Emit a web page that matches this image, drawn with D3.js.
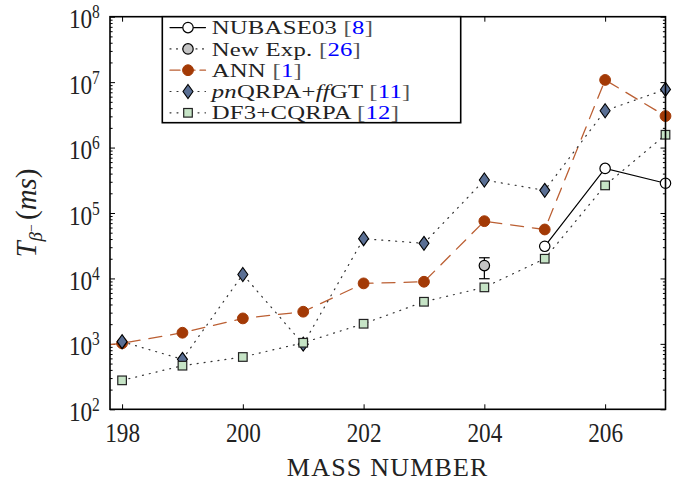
<!DOCTYPE html>
<html><head><meta charset="utf-8">
<script src="https://cdn.jsdelivr.net/npm/d3@7"></script>
<style>body{margin:0;background:#fff}svg{display:block}</style>
</head><body>
<svg id="c" width="677" height="483"></svg>
<script>
// ---- data ----
const massNumbers = [198,199,200,201,202,203,204,205,206,207];
const xTickValues = [198,200,202,204,206];
const yTickValues = [1e2,1e3,1e4,1e5,1e6,1e7,1e8];

const nubaseMass = [205,206,207];
const nubaseVals = [3.1e4, 4.8e5, 2.85e5];

const newExpMass = [204];
const newExpVals = [1.57e4];
const newExpLow  = [9.9e3];
const newExpHigh = [2.07e4];

const annMass = [197,198,199,200,201,202,203,204,205,206,207];
const annVals = [800,1020,1480,2450,3100,8400,8900,7.5e4,5.6e4,1.08e7,3.03e6];

const pnqrpaVals = [1080,580,1.15e4,990,4.05e4,3.44e4,3.19e5,2.22e5,3.66e6,7.75e6];
const df3Vals    = [277,464,630,1040,2030,4400,7300,2.0e4,2.64e5,1.57e6];

const legendLabels = [
  [{t:"NUBASE03 "},{t:"[",c:"#555"},{t:"8",c:"#0000ff"},{t:"]",c:"#555"}],
  [{t:"New Exp. "},{t:"[",c:"#555"},{t:"26",c:"#0000ff"},{t:"]",c:"#555"}],
  [{t:"ANN "},{t:"[",c:"#555"},{t:"1",c:"#0000ff"},{t:"]",c:"#555"}],
  [{t:"pn",i:true},{t:"QRPA+"},{t:"ff",i:true},{t:"GT "},{t:"[",c:"#555"},{t:"11",c:"#0000ff"},{t:"]",c:"#555"}],
  [{t:"DF3+CQRPA "},{t:"[",c:"#555"},{t:"12",c:"#0000ff"},{t:"]",c:"#555"}]
];

// ---- layout ----
const L = 110, R = 665.5, T = 16.7, B = 409.3;
const FONT = "Liberation Serif, serif";
const svg = d3.select("#c");
const x = d3.scaleLinear().domain([197.8, 207]).range([L, R]);
const y = d3.scaleLog().domain([1e2, 1e8]).range([B, T]);

svg.append("defs").append("clipPath").attr("id","clip")
  .append("rect").attr("x",L).attr("y",T).attr("width",R-L).attr("height",B-T);

// ---- axes ----
const minorY = y.ticks().filter(v => !yTickValues.some(m => Math.abs(m - v) / m < 1e-9));
function styleAxis(g){ g.select(".domain").remove(); g.selectAll(".tick line").attr("stroke","#000").attr("stroke-width",1); }

svg.append("g").attr("transform",`translate(${L},0)`)
  .call(d3.axisLeft(y).tickValues(minorY).tickSizeInner(-2.6).tickSizeOuter(0).tickFormat(""))
  .call(styleAxis);
svg.append("g").attr("transform",`translate(${R},0)`)
  .call(d3.axisRight(y).tickValues(minorY).tickSizeInner(-2.6).tickSizeOuter(0).tickFormat(""))
  .call(styleAxis);

const gyl = svg.append("g").attr("transform",`translate(${L},0)`)
  .call(d3.axisLeft(y).tickValues(yTickValues).tickSizeInner(-5).tickSizeOuter(0).tickPadding(11.8))
  .call(styleAxis);
gyl.selectAll(".tick text").each(function(d){
  const t = d3.select(this);
  t.text(null).attr("dy",null).attr("y",11).attr("transform","scale(0.86,1)")
   .attr("font-family",FONT).attr("font-size",27).attr("fill","#222").attr("text-anchor","end");
  t.append("tspan").text("10");
  t.append("tspan").attr("dy",-10).attr("font-size",18).text(Math.round(Math.log10(d)));
});
svg.append("g").attr("transform",`translate(${R},0)`)
  .call(d3.axisRight(y).tickValues(yTickValues).tickSizeInner(-5).tickSizeOuter(0).tickFormat(""))
  .call(styleAxis);

const gxb = svg.append("g").attr("transform",`translate(0,${B})`)
  .call(d3.axisBottom(x).tickValues(xTickValues).tickSizeInner(-5).tickSizeOuter(0).tickFormat(d3.format("d")))
  .call(styleAxis);
gxb.selectAll(".tick text").attr("y",32.4).attr("dy",null).attr("transform","scale(0.86,1)")
  .attr("font-family",FONT).attr("font-size",27).attr("fill","#222");
svg.append("g").attr("transform",`translate(0,${T})`)
  .call(d3.axisTop(x).tickValues(xTickValues).tickSizeInner(-5).tickSizeOuter(0).tickFormat(""))
  .call(styleAxis);

// axis titles
svg.append("text").attr("x",(L+R)/2).attr("y",476).attr("text-anchor","middle")
  .attr("font-family",FONT).attr("font-size",26).attr("letter-spacing",1.2).attr("fill","#222")
  .text("MASS NUMBER");
const yl = svg.append("text").attr("transform",`translate(36,${(T+B)/2}) rotate(-90)`)
  .attr("text-anchor","middle").attr("font-family",FONT).attr("font-size",29).attr("fill","#222");
yl.append("tspan").attr("font-style","italic").text("T");
yl.append("tspan").attr("font-style","italic").attr("font-size",19).attr("dy",6).text("β");
yl.append("tspan").attr("font-size",14).attr("dy",-6).text("−");
yl.append("tspan").attr("dx",4).text("(");
yl.append("tspan").attr("font-style","italic").text("ms");
yl.append("tspan").text(")");

// ---- series ----
const plot = svg.append("g");
const inDomain = m => m >= x.domain()[0] && m <= x.domain()[1];
const lineGen = d3.line().x(d => x(d[0])).y(d => y(d[1]));

const symbols = {
  circle: (g, cx, cy, s) => g.append("circle").attr("cx",cx).attr("cy",cy).attr("r",s.r),
  diamond: (g, cx, cy, s) => g.append("path")
    .attr("d",`M${cx},${cy-7}L${cx+5},${cy}L${cx},${cy+7}L${cx-5},${cy}Z`),
  square: (g, cx, cy, s) => g.append("rect").attr("x",cx-4.3).attr("y",cy-4.3).attr("width",8.6).attr("height",8.6)
};

function drawSeries(mass, vals, st){
  const pts = mass.map((m,i)=>[m, vals[i]]);
  if (st.dash !== null) {
    plot.append("path").datum(pts).attr("d",lineGen).attr("clip-path","url(#clip)")
      .attr("fill","none").attr("stroke",st.lc).attr("stroke-width",st.lw)
      .attr("stroke-dasharray",st.dash).attr("stroke-linecap","round");
  }
  pts.filter(p => inDomain(p[0])).forEach(p => {
    symbols[st.sym](plot, x(p[0]), y(p[1]), st)
      .attr("fill",st.fill).attr("stroke",st.mec).attr("stroke-width",st.mew);
  });
}

const styles = [
  {sym:"circle", r:5.2, fill:"#ffffff", mec:"#000", mew:1.2, lc:"#000", lw:1.2, dash:"none"},
  {sym:"circle", r:5.2, fill:"#c4c4c4", mec:"#000", mew:1.2, lc:"#333", lw:1.2, dash:"1,5.5"},
  {sym:"circle", r:5.4, fill:"#a33a06", mec:"#a33a06", mew:1, lc:"#bb5f33", lw:1.3, dash:"13,9"},
  {sym:"diamond", fill:"#5a6f94", mec:"#000", mew:1.1, lc:"#333", lw:1.2, dash:"1,6"},
  {sym:"square", fill:"#c6e4c6", mec:"#222", mew:1.2, lc:"#333", lw:1.2, dash:"1,6"}
];

drawSeries(nubaseMass, nubaseVals, styles[0]);
newExpMass.forEach((m,i)=>{
  const cx = x(m);
  plot.append("line").attr("x1",cx).attr("x2",cx).attr("y1",y(newExpLow[i])).attr("y2",y(newExpHigh[i]))
    .attr("stroke","#000").attr("stroke-width",1.2);
  [newExpLow[i], newExpHigh[i]].forEach(v => plot.append("line").attr("x1",cx-5.3).attr("x2",cx+5.3)
    .attr("y1",y(v)).attr("y2",y(v)).attr("stroke","#000").attr("stroke-width",1.2));
});
drawSeries(newExpMass, newExpVals, styles[1]);
drawSeries(annMass, annVals, styles[2]);
drawSeries(massNumbers, pnqrpaVals, styles[3]);
drawSeries(massNumbers, df3Vals, styles[4]);

svg.append("rect").attr("x",L).attr("y",T).attr("width",R-L).attr("height",B-T)
  .attr("fill","none").attr("stroke","#000").attr("stroke-width",1.6);

// ---- legend ----
const lg = svg.append("g");
lg.append("rect").attr("x",162.3).attr("y",T).attr("width",460.7-162.3).attr("height",122.7-T)
  .attr("fill","#fff").attr("stroke","#000").attr("stroke-width",1.6);
const rowY = [27.6, 48.9, 70.2, 91.5, 112.8];
legendLabels.forEach((parts, i) => {
  const st = styles[i];
  const cy = rowY[i];
  lg.append("line").attr("x1",170).attr("x2",205.5).attr("y1",cy).attr("y2",cy)
    .attr("stroke",st.lc).attr("stroke-width",st.lw)
    .attr("stroke-dasharray", i===2 ? "10,5" : st.dash).attr("stroke-linecap","round");
  symbols[st.sym](lg, 188, cy, st).attr("fill",st.fill).attr("stroke",st.mec).attr("stroke-width",st.mew);
  const t = lg.append("text").attr("transform",`translate(211.7,${cy+6.6}) scale(1.3,1)`)
    .attr("font-family",FONT).attr("font-size",19).attr("letter-spacing",0.2).attr("fill","#222");
  parts.forEach(p => {
    const ts = t.append("tspan").text(p.t);
    if (p.i) ts.attr("font-style","italic");
    if (p.c) ts.attr("fill",p.c);
  });
});
</script>
</body></html>
